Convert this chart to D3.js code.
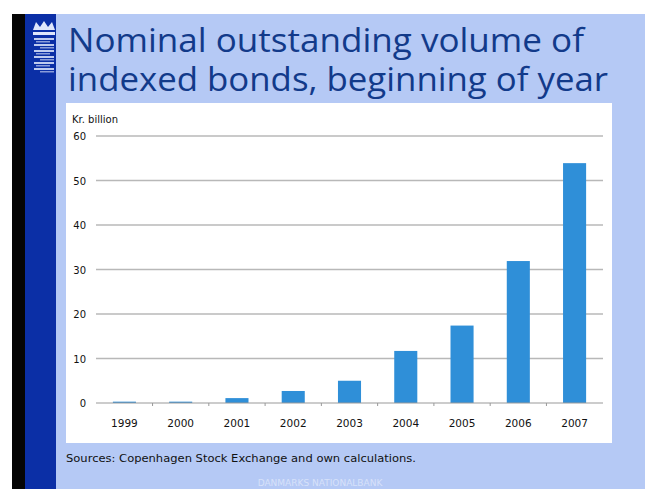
<!DOCTYPE html>
<html><head><meta charset="utf-8">
<script src="https://cdn.jsdelivr.net/npm/d3@7"></script>
<style>body{margin:0;background:#fff}svg{display:block}</style>
</head><body>
<svg id="c" width="645" height="489"></svg>
<script>
const years = ["1999","2000","2001","2002","2003","2004","2005","2006","2007"];
const volumes = [0.3, 0.3, 1.1, 2.7, 5.0, 11.7, 17.4, 31.9, 53.9];
const yTicks = [0, 10, 20, 30, 40, 50, 60];
const titleLines = ["Nominal outstanding volume of", "indexed bonds, beginning of year"];
const unitLabel = "Kr. billion";
const sourceText = "Sources: Copenhagen Stock Exchange and own calculations.";
const footerText = "DANMARKS NATIONALBANK";

const svg = d3.select("#c");
// slide background
svg.append("rect").attr("x",0).attr("y",0).attr("width",645).attr("height",489).attr("fill","#ffffff");
svg.append("rect").attr("x",12).attr("y",14).attr("width",633).attr("height",475).attr("fill","#b5c9f5");
svg.append("rect").attr("x",12).attr("y",14).attr("width",13).attr("height",475).attr("fill","#050505");
svg.append("rect").attr("x",25).attr("y",14).attr("width",31).attr("height",475).attr("fill","#0b2fa6");

// simple emblem
const logo = svg.append("g").attr("fill","#dfe6fb");
logo.append("path").attr("d","M33,30 L36,22 L40,27 L44,21 L48,27 L52,22 L55,30 Z");
logo.append("rect").attr("x",33).attr("y",32).attr("width",22).attr("height",3);
[38,44,50,56,62,68].forEach((y,i)=>{
  logo.append("rect").attr("x",34).attr("y",y).attr("width",20).attr("height",2).attr("opacity",0.85);
  logo.append("rect").attr("x",36+(i%2)*4).attr("y",y+3).attr("width",14).attr("height",1.5).attr("opacity",0.6);
});

// title
const title = svg.append("g").attr("fill","#123a8a").style("font-family","'Open Sans', sans-serif")
  .style("font-size","32px").style("font-weight","400");
title.append("text").attr("x",68).attr("y",52).attr("textLength",516).attr("lengthAdjust","spacingAndGlyphs").text(titleLines[0]);
title.append("text").attr("x",68).attr("y",91).attr("textLength",540).attr("lengthAdjust","spacingAndGlyphs").text(titleLines[1]);

// chart panel
svg.append("rect").attr("x",66).attr("y",103).attr("width",546).attr("height",340).attr("fill","#ffffff");

const x = d3.scaleBand().domain(years).range([96, 603]).paddingInner(0.59).paddingOuter(0.3);
const y = d3.scaleLinear().domain([0, 60]).range([403, 136]);

const g = svg.append("g").style("font-family","'DejaVu Sans', sans-serif");

// gridlines
g.selectAll(".grid").data(yTicks.filter(d=>d>0)).join("line")
  .attr("x1",96).attr("x2",603).attr("y1",d=>y(d)).attr("y2",d=>y(d))
  .attr("stroke","#b8b8b8").attr("stroke-width",1.5);

// y labels
g.selectAll(".yl").data(yTicks).join("text")
  .attr("x",86).attr("y",d=>y(d)+4).attr("text-anchor","end")
  .attr("font-size","10px").attr("fill","#111").text(d=>d);

g.append("text").attr("x",72).attr("y",123).attr("font-size","10px").attr("fill","#111").text(unitLabel);

// bars
g.selectAll(".bar").data(years).join("rect")
  .attr("x",d=>x(d)).attr("width",x.bandwidth())
  .attr("y",(d,i)=>y(volumes[i])).attr("height",(d,i)=>y(0)-y(volumes[i]))
  .attr("fill","#2f8fd8");

// x axis
const step = x.step();
g.append("line").attr("x1",96).attr("x2",603).attr("y1",y(0)).attr("y2",y(0)).attr("stroke","#999").attr("stroke-width",1.2);
g.selectAll(".tk").data(years.slice(1)).join("line")
  .attr("x1",d=>x(d)-(step-x.bandwidth())/2).attr("x2",d=>x(d)-(step-x.bandwidth())/2)
  .attr("y1",y(0)).attr("y2",y(0)+3).attr("stroke","#999");
g.selectAll(".xl").data(years).join("text")
  .attr("x",d=>x(d)+x.bandwidth()/2).attr("y",427).attr("text-anchor","middle")
  .attr("font-size","10.5px").attr("fill","#111").text(d=>d);

// source
svg.append("text").attr("x",66).attr("y",462).style("font-family","'DejaVu Sans', sans-serif")
  .attr("font-size","11px").attr("fill","#111").attr("textLength",350).attr("lengthAdjust","spacingAndGlyphs").text(sourceText);
svg.append("text").attr("x",320).attr("y",486).attr("text-anchor","middle").style("font-family","'DejaVu Sans', sans-serif")
  .attr("font-size","9px").attr("fill","#ffffff").attr("opacity",0.45).text(footerText);
</script>
</body></html>
